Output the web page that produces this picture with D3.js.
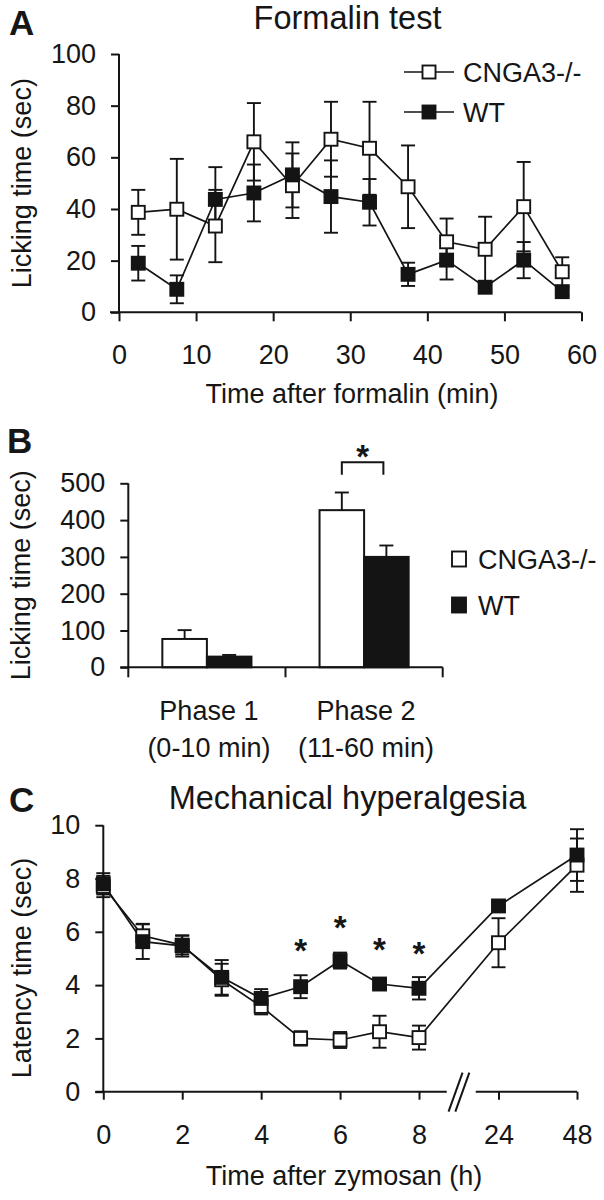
<!DOCTYPE html>
<html><head><meta charset="utf-8">
<script src="https://cdn.jsdelivr.net/npm/d3@7"></script>
<style>
body{margin:0;background:#fff}
svg text{font-family:"Liberation Sans",Arial,Helvetica,sans-serif;fill:#161616}
</style>
</head><body>
<svg id="chart" width="604" height="1200"></svg>
<script>
// ---------- DATA ----------
const seriesNames = ["CNGA3-/-", "WT"];

// Panel A: Formalin test
const timeA   = [2.5, 7.5, 12.5, 17.5, 22.5, 27.5, 32.5, 37.5, 42.5, 47.5, 52.5, 57.5];
const cngaA   = [38.7, 39.9, 33.4, 66.0, 49.0, 67.0, 63.5, 48.6, 27.3, 24.4, 40.9, 15.7];
const cngaAErr= [8.7, 19.5, 14.0, 15.0, 12.5, 14.5, 18.0, 16.0, 9.0, 12.6, 17.3, 5.6];
const wtA     = [19.0, 8.9, 43.7, 46.2, 53.2, 44.8, 42.6, 14.7, 20.2, 9.7, 20.2, 8.0];
const wtAErr  = [6.7, 5.4, 12.5, 11.0, 12.6, 14.0, 9.0, 4.5, 7.5, 2.0, 7.0, 1.5];
const ticksAX = [0, 10, 20, 30, 40, 50, 60];
const ticksAY = [0, 20, 40, 60, 80, 100];

// Panel B: phases
const phases      = ["Phase 1", "Phase 2"];
const phaseRanges = ["(0-10 min)", "(11-60 min)"];
const cngaB    = [77, 427];
const cngaBErr = [24, 48];
const wtB      = [29, 300];
const wtBErr   = [4.5, 31];
const ticksBY  = [0, 100, 200, 300, 400, 500];
const sigB     = {phase: "Phase 2", bar: 557, leg: 523, star: 593};

// Panel C: Mechanical hyperalgesia
const hoursC   = [0, 1, 2, 3, 4, 5, 6, 7, 8, 24, 48];
const cngaC    = [7.7, 5.85, 5.5, 4.2, 3.2, 2.0, 1.94, 2.25, 2.03, 5.59, 8.5];
const cngaCErr = [0.4, 0.45, 0.35, 0.6, 0.3, 0.27, 0.3, 0.6, 0.45, 0.92, 1.0];
const wtC      = [7.8, 5.63, 5.47, 4.29, 3.5, 3.94, 4.92, 4.04, 3.88, 6.97, 8.88];
const wtCErr   = [0.4, 0.65, 0.4, 0.65, 0.35, 0.43, 0.3, 0.15, 0.42, 0.15, 0.97];
const ticksCX  = [0, 2, 4, 6, 8, 24, 48];
const ticksCY  = [0, 2, 4, 6, 8, 10];
const starHoursC = [5, 6, 7, 8];
const starLevelC = [5.57, 6.44, 5.63, 5.47];

// ---------- STYLE ----------
const INK = "#141414";
const FS = 27;          // tick / label font size
const TFS = 32.5;       // title font size
const MK = 13;          // marker size
const SW = 1.9;
const STAR = 33;        // asterisk font size

const svg = d3.select("#chart");

function styleAxis(g) {
  g.selectAll(".domain").remove();
  g.selectAll(".tick line").attr("stroke", INK).attr("stroke-width", 2);
  g.selectAll(".tick text").attr("font-size", FS).attr("font-family", null).attr("fill", INK);
  g.attr("font-family", null).attr("font-size", null);
}
function hline(x1, x2, y) {
  svg.append("line").attr("x1", x1).attr("x2", x2).attr("y1", y).attr("y2", y)
    .attr("stroke", INK).attr("stroke-width", 2);
}
function vline(x, y1, y2) {
  svg.append("line").attr("x1", x).attr("x2", x).attr("y1", y1).attr("y2", y2)
    .attr("stroke", INK).attr("stroke-width", 2);
}
function text(t, x, y, opts = {}) {
  const el = svg.append("text").attr("x", x).attr("y", y).text(t)
    .attr("font-size", opts.size || FS)
    .attr("text-anchor", opts.anchor || "start");
  if (opts.bold) el.attr("font-weight", "bold");
  if (opts.rotate) el.attr("transform", `rotate(-90,${x},${y})`);
  return el;
}
function errBars(g, xs, ys, es, x, y, both) {
  g.selectAll(null).data(xs).join("g").each(function (d, i) {
    const gg = d3.select(this);
    const cx = x(d), top = y(ys[i] + es[i]), bot = both ? y(ys[i] - es[i]) : y(ys[i]);
    gg.append("line").attr("x1", cx).attr("x2", cx).attr("y1", top).attr("y2", bot)
      .attr("stroke", INK).attr("stroke-width", SW);
    gg.append("line").attr("x1", cx - 7).attr("x2", cx + 7).attr("y1", top).attr("y2", top)
      .attr("stroke", INK).attr("stroke-width", SW);
    if (both) gg.append("line").attr("x1", cx - 7).attr("x2", cx + 7).attr("y1", bot).attr("y2", bot)
      .attr("stroke", INK).attr("stroke-width", SW);
  });
}
function series(g, xs, ys, x, y) {
  g.append("path").datum(xs.map((d, i) => [d, ys[i]]))
    .attr("d", d3.line().x(d => x(d[0])).y(d => y(d[1])))
    .attr("fill", "none").attr("stroke", INK).attr("stroke-width", 1.7);
}
function markers(g, xs, ys, x, y, fill) {
  g.selectAll(null).data(xs).join("rect")
    .attr("x", d => x(d) - MK / 2).attr("y", (d, i) => y(ys[i]) - MK / 2)
    .attr("width", MK).attr("height", MK)
    .attr("fill", fill).attr("stroke", INK).attr("stroke-width", SW);
}

// ================= PANEL A =================
const xA = d3.scaleLinear().domain([0, 60]).range([119, 581.5]);
const yA = d3.scaleLinear().domain([0, 100]).range([312.3, 54]);

text("A", 9, 35, {size: 35, bold: true});
text("Formalin test", 347.5, 29, {size: TFS, anchor: "middle"});
text("Licking time (sec)", 31, (yA(0) + yA(100)) / 2, {anchor: "middle", rotate: true});
text("Time after formalin (min)", 352, 403, {anchor: "middle"});

svg.append("g").attr("transform", `translate(${xA(0)},0)`)
  .call(d3.axisLeft(yA).tickValues(ticksAY).tickSize(8).tickPadding(15)).call(styleAxis);
svg.append("g").attr("transform", `translate(0,${yA(0)})`)
  .call(d3.axisBottom(xA).tickValues(ticksAX).tickSize(9).tickPadding(24)).call(styleAxis);
vline(xA(0), yA(100), yA(0));
hline(xA(0) - 9, xA(60), yA(0));

const gA = svg.append("g");
errBars(gA, timeA, cngaA, cngaAErr, xA, yA, true);
errBars(gA, timeA, wtA, wtAErr, xA, yA, true);
series(gA, timeA, cngaA, xA, yA);
series(gA, timeA, wtA, xA, yA);
markers(gA, timeA, cngaA, xA, yA, "#fff");
markers(gA, timeA, wtA, xA, yA, INK);

// legend A
[72, 112].forEach((ly, i) => {
  svg.append("line").attr("x1", 404).attr("x2", 454).attr("y1", ly).attr("y2", ly)
    .attr("stroke", INK).attr("stroke-width", 1.7);
  svg.append("rect").attr("x", 429 - MK / 2).attr("y", ly - MK / 2).attr("width", MK).attr("height", MK)
    .attr("fill", i === 0 ? "#fff" : INK).attr("stroke", INK).attr("stroke-width", SW);
  text(seriesNames[i], 463, ly + 9.5);
});

// ================= PANEL B =================
const xB = d3.scaleBand().domain(phases).range([128.3, 442.7]).padding(0);
const xBi = d3.scaleBand().domain(seriesNames).range([0, xB.bandwidth()]).paddingInner(0).paddingOuter(0.764);
const yB = d3.scaleLinear().domain([0, 500]).range([667.3, 483.3]);

text("B", 7, 453, {size: 35, bold: true});
text("Licking time (sec)", 30, (yB(0) + yB(500)) / 2, {anchor: "middle", rotate: true});

svg.append("g").attr("transform", `translate(${xB.range()[0]},0)`)
  .call(d3.axisLeft(yB).tickValues(ticksBY).tickSize(8).tickPadding(15)).call(styleAxis);

const gB = svg.append("g");
const barData = phases.map((p, i) => [
  {p, s: seriesNames[0], v: cngaB[i], e: cngaBErr[i], fill: "#fff"},
  {p, s: seriesNames[1], v: wtB[i], e: wtBErr[i], fill: INK}
]).flat();
barData.forEach(d => {
  const cx = xB(d.p) + xBi(d.s) + xBi.bandwidth() / 2;
  gB.append("line").attr("x1", cx).attr("x2", cx).attr("y1", yB(d.v)).attr("y2", yB(d.v + d.e))
    .attr("stroke", INK).attr("stroke-width", SW);
  gB.append("line").attr("x1", cx - 7).attr("x2", cx + 7).attr("y1", yB(d.v + d.e)).attr("y2", yB(d.v + d.e))
    .attr("stroke", INK).attr("stroke-width", SW);
});
gB.selectAll("rect").data(barData).join("rect")
  .attr("x", d => xB(d.p) + xBi(d.s)).attr("y", d => yB(d.v))
  .attr("width", xBi.bandwidth()).attr("height", d => yB(0) - yB(d.v))
  .attr("fill", d => d.fill).attr("stroke", INK).attr("stroke-width", 2);

vline(xB.range()[0], yB(500), yB(0));
hline(xB.range()[0] - 8, xB.range()[1], yB(0));
[xB.range()[0], xB(phases[1]), xB.range()[1]].forEach(x => vline(x, yB(0), yB(0) + 10));
phases.forEach((p, i) => {
  const cx = xB(p) + xB.bandwidth() / 2 + 2;
  text(p, cx, 720, {anchor: "middle"});
  text(phaseRanges[i], cx, 757, {anchor: "middle"});
});

// significance bracket
{
  const c1 = xB(sigB.phase) + xBi(seriesNames[0]) + xBi.bandwidth() / 2;
  const c2 = xB(sigB.phase) + xBi(seriesNames[1]) + xBi.bandwidth() / 2 - 3;
  svg.append("path").attr("d", `M${c1},${yB(sigB.leg)}V${yB(sigB.bar)}H${c2}V${yB(sigB.leg)}`)
    .attr("fill", "none").attr("stroke", INK).attr("stroke-width", 2);
  text("*", (c1 + c2) / 2, yB(sigB.star) + 19, {size: STAR, bold: true, anchor: "middle"});
}

// legend B
[559, 605].forEach((ly, i) => {
  svg.append("rect").attr("x", 452).attr("y", ly - 7.5).attr("width", 14).attr("height", 15)
    .attr("fill", i === 0 ? "#fff" : INK).attr("stroke", INK).attr("stroke-width", SW);
  text(seriesNames[i], 478, ly + 9.5);
});

// ================= PANEL C =================
const xC = d3.scaleLinear().domain([0, 8, 24, 48]).range([103.3, 419, 498.5, 577]);
const yC = d3.scaleLinear().domain([0, 10]).range([1091.7, 825.2]);

text("C", 9, 812, {size: 35, bold: true});
text("Mechanical hyperalgesia", 347.5, 809, {size: TFS, anchor: "middle"});
text("Latency time (sec)", 31, 968, {anchor: "middle", rotate: true});
text("Time after zymosan (h)", 344, 1185, {anchor: "middle"});

svg.append("g").attr("transform", `translate(${xC(0)},0)`)
  .call(d3.axisLeft(yC).tickValues(ticksCY).tickSize(8).tickPadding(15)).call(styleAxis);
svg.append("g").attr("transform", `translate(0,${yC(0)})`)
  .call(d3.axisBottom(xC).tickValues(ticksCX).tickSize(8).tickPadding(25)).call(styleAxis);
vline(xC(0), yC(10), yC(0));
const brk = (xC(8) + xC(24)) / 2;
hline(xC(0) - 8, brk - 12, yC(0));
hline(brk + 17, xC(48), yC(0));
[-3.2, 3.6].forEach(o => {
  svg.append("line").attr("x1", brk + o - 7).attr("y1", yC(0) + 20).attr("x2", brk + o + 7).attr("y2", yC(0) - 19)
    .attr("stroke", INK).attr("stroke-width", 2);
});

const gC = svg.append("g");
errBars(gC, hoursC, cngaC, cngaCErr, xC, yC, true);
errBars(gC, hoursC, wtC, wtCErr, xC, yC, true);
series(gC, hoursC, cngaC, xC, yC);
series(gC, hoursC, wtC, xC, yC);
markers(gC, hoursC, cngaC, xC, yC, "#fff");
markers(gC, hoursC, wtC, xC, yC, INK);

starHoursC.forEach((h, i) => {
  text("*", xC(h), yC(starLevelC[i]) + 19, {size: STAR, bold: true, anchor: "middle"});
});
</script>
</body></html>
